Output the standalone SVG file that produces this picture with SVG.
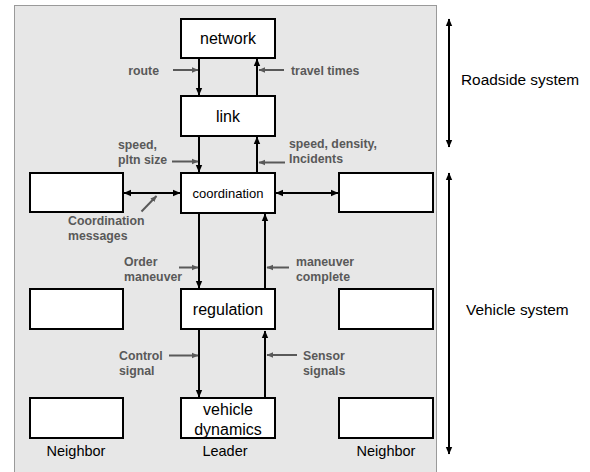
<svg xmlns="http://www.w3.org/2000/svg" width="590" height="472" viewBox="0 0 590 472">
<style>
.node{fill:#fff;stroke:#000;stroke-width:2}
.nt{font-family:"Liberation Sans",Arial,sans-serif;font-size:16px;fill:#000;text-anchor:middle}
.lbl{font-family:"Liberation Sans",Arial,sans-serif;font-size:12.3px;font-weight:bold;fill:#595959}
.side{font-family:"Liberation Sans",Arial,sans-serif;font-size:15.4px;fill:#000}
.foot{font-family:"Liberation Sans",Arial,sans-serif;font-size:14.5px;fill:#000;text-anchor:middle}
.c{stroke:#000;stroke-width:2;fill:none}
.g{stroke:#595959;stroke-width:2;fill:none}
</style>
<defs>
<marker id="ah" markerUnits="userSpaceOnUse" markerWidth="8" markerHeight="8" viewBox="0 0 8 8" refX="7" refY="4" orient="auto-start-reverse"><path d="M0,0.8 L7.5,4 L0,7.2 Z" fill="#000"/></marker>
<marker id="gh" markerUnits="userSpaceOnUse" markerWidth="7" markerHeight="7" viewBox="0 0 7 7" refX="6" refY="3.5" orient="auto"><path d="M0,0.8 L6.5,3.5 L0,6.2 Z" fill="#595959"/></marker>
</defs>
<rect x="14.5" y="5.5" width="422" height="470" fill="#e7e7e7" stroke="#9a9a9a" stroke-width="1"/>

<g id="connectors">
<line class="c" x1="199" y1="58" x2="199" y2="95" marker-end="url(#ah)"/>
<line class="c" x1="257" y1="96" x2="257" y2="59" marker-end="url(#ah)"/>
<line class="c" x1="199" y1="136" x2="199" y2="172" marker-end="url(#ah)"/>
<line class="c" x1="257" y1="173" x2="257" y2="137" marker-end="url(#ah)"/>
<line class="c" x1="199" y1="213" x2="199" y2="288" marker-end="url(#ah)"/>
<line class="c" x1="265" y1="289" x2="265" y2="214" marker-end="url(#ah)"/>
<line class="c" x1="199" y1="330" x2="199" y2="397" marker-end="url(#ah)"/>
<line class="c" x1="265" y1="398" x2="265" y2="331" marker-end="url(#ah)"/>
<line class="c" x1="124" y1="193" x2="180" y2="193" marker-start="url(#ah)" marker-end="url(#ah)"/>
<line class="c" x1="276" y1="193" x2="338" y2="193" marker-start="url(#ah)" marker-end="url(#ah)"/>
<line class="c" x1="449" y1="19" x2="449" y2="147" marker-start="url(#ah)" marker-end="url(#ah)"/>
<line class="c" x1="449" y1="173" x2="449" y2="454" marker-start="url(#ah)" marker-end="url(#ah)"/>
<line class="g" x1="173" y1="70" x2="198" y2="70" marker-end="url(#gh)"/>
<line class="g" x1="284" y1="70" x2="259" y2="70" marker-end="url(#gh)"/>
<line class="g" x1="172" y1="161.5" x2="198" y2="161.5" marker-end="url(#gh)"/>
<line class="g" x1="285" y1="162.5" x2="259" y2="162.5" marker-end="url(#gh)"/>
<line class="g" x1="141.5" y1="211.5" x2="156.5" y2="196" marker-end="url(#gh)"/>
<line class="g" x1="179" y1="267.5" x2="198" y2="267.5" marker-end="url(#gh)"/>
<line class="g" x1="289" y1="267.5" x2="267" y2="267.5" marker-end="url(#gh)"/>
<line class="g" x1="169" y1="355.5" x2="198" y2="355.5" marker-end="url(#gh)"/>
<line class="g" x1="297" y1="355" x2="267" y2="355" marker-end="url(#gh)"/>
</g>

<g id="network"><rect class="node" x="181" y="19" width="94" height="39"/><text class="nt" x="228" y="44">network</text></g>
<g id="link"><rect class="node" x="181" y="96" width="94" height="40"/><text class="nt" x="228" y="122">link</text></g>
<g id="coordination"><rect class="node" x="181" y="173" width="94" height="40"/><text class="nt" x="228" y="198" style="font-size:13px">coordination</text></g>
<g id="regulation"><rect class="node" x="181" y="289" width="94" height="40"/><text class="nt" x="228" y="315">regulation</text></g>
<g id="vehicle-dynamics"><rect class="node" x="181" y="398" width="94" height="40"/><text class="nt" x="228" y="415">vehicle</text><text class="nt" x="228" y="435">dynamics</text></g>
<g id="neighbor-left-1"><rect class="node" x="30" y="173" width="93" height="39"/></g>
<g id="neighbor-left-2"><rect class="node" x="30" y="289" width="93" height="40"/></g>
<g id="neighbor-left-3"><rect class="node" x="30" y="398" width="93" height="40"/></g>
<g id="neighbor-right-1"><rect class="node" x="339" y="173" width="94" height="39"/></g>
<g id="neighbor-right-2"><rect class="node" x="339" y="289" width="94" height="40"/></g>
<g id="neighbor-right-3"><rect class="node" x="339" y="398" width="94" height="40"/></g>

<g id="labels">
<text class="lbl" x="159" y="75" text-anchor="end">route</text>
<text class="lbl" x="291" y="75">travel times</text>
<text class="lbl" x="118" y="149">speed,</text>
<text class="lbl" x="118" y="164">pltn size</text>
<text class="lbl" x="289" y="148">speed, density,</text>
<text class="lbl" x="289" y="163">Incidents</text>
<text class="lbl" x="68" y="225">Coordination</text>
<text class="lbl" x="68" y="240">messages</text>
<text class="lbl" x="124" y="266">Order</text>
<text class="lbl" x="124" y="281">maneuver</text>
<text class="lbl" x="296" y="266">maneuver</text>
<text class="lbl" x="296" y="281">complete</text>
<text class="lbl" x="119" y="360">Control</text>
<text class="lbl" x="119" y="375">signal</text>
<text class="lbl" x="303" y="360">Sensor</text>
<text class="lbl" x="303" y="375">signals</text>
<text class="foot" x="76" y="456">Neighbor</text>
<text class="foot" x="225" y="456">Leader</text>
<text class="foot" x="386" y="456">Neighbor</text>
<text class="side" x="461" y="85">Roadside system</text>
<text class="side" x="466" y="315">Vehicle system</text>
</g>
</svg>
